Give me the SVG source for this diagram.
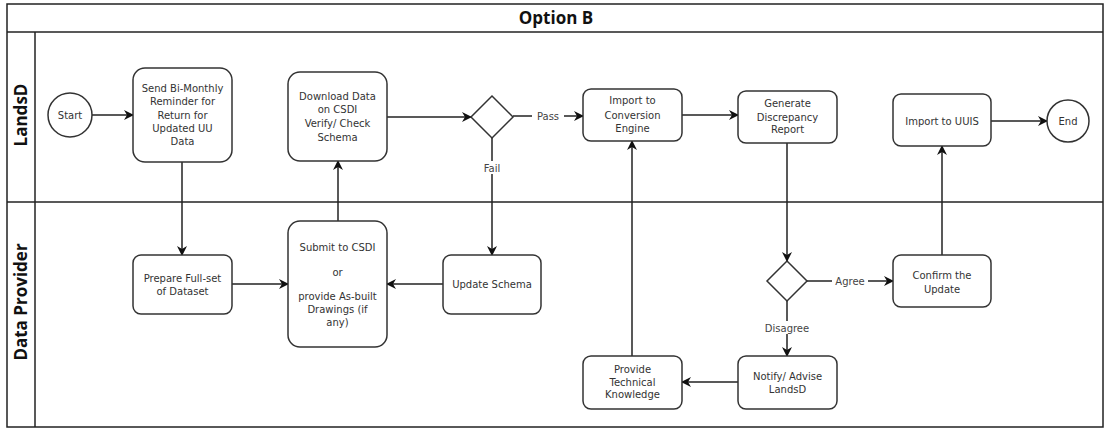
<svg xmlns="http://www.w3.org/2000/svg" width="1107" height="428" viewBox="0 0 1107 428">
<style>
.frame{fill:none;stroke:#222;stroke-width:1.5}
.box{fill:#fff;stroke:#333;stroke-width:1.5}
.t{font-family:"DejaVu Sans",Verdana,sans-serif;font-size:10px;fill:#333;text-anchor:middle}
.lbl{font-family:"DejaVu Sans",Verdana,sans-serif;font-size:10px;fill:#444;text-anchor:middle}
.lane{font-family:"Open Sans","DejaVu Sans",sans-serif;font-size:17px;font-weight:bold;fill:#111;text-anchor:middle}
.edge{fill:none;stroke:#222;stroke-width:1.5}
.bg{fill:#fff}
</style>
<defs>
<marker id="arr" viewBox="0 0 10 10" refX="9" refY="5" markerWidth="10" markerHeight="10" markerUnits="userSpaceOnUse" orient="auto">
<path d="M0,0 L10,5 L0,10 L3,5 z" fill="#111"/>
</marker>
</defs>
<rect width="1107" height="428" fill="#fff"/>
<g id="pool">
<rect class="frame" x="7" y="4" width="1096" height="423"/>
<line class="frame" x1="7" y1="32" x2="1103" y2="32"/>
<line class="frame" x1="35" y1="32" x2="35" y2="427"/>
<line class="frame" x1="7" y1="202" x2="1103" y2="202"/>
<text class="lane" x="556" y="24">Option B</text>
<text class="lane" transform="translate(27,115) rotate(-90)">LandsD</text>
<text class="lane" transform="translate(27,302) rotate(-90)">Data Provider</text>
</g>
<g id="connectors">
<line class="edge" x1="92" y1="115" x2="133" y2="115" marker-end="url(#arr)"/>
<line class="edge" x1="182" y1="162" x2="182" y2="255" marker-end="url(#arr)"/>
<line class="edge" x1="232" y1="284" x2="288" y2="284" marker-end="url(#arr)"/>
<line class="edge" x1="338" y1="221" x2="338" y2="161" marker-end="url(#arr)"/>
<line class="edge" x1="387" y1="117" x2="471" y2="117" marker-end="url(#arr)"/>
<line class="edge" x1="513" y1="116" x2="583" y2="116" marker-end="url(#arr)"/>
<line class="edge" x1="492" y1="138" x2="492" y2="255" marker-end="url(#arr)"/>
<line class="edge" x1="443" y1="284" x2="387" y2="284" marker-end="url(#arr)"/>
<line class="edge" x1="682" y1="115" x2="738" y2="115" marker-end="url(#arr)"/>
<line class="edge" x1="787" y1="143" x2="787" y2="261" marker-end="url(#arr)"/>
<line class="edge" x1="807" y1="281" x2="893" y2="281" marker-end="url(#arr)"/>
<line class="edge" x1="787" y1="301" x2="787" y2="356" marker-end="url(#arr)"/>
<line class="edge" x1="738" y1="382" x2="682" y2="382" marker-end="url(#arr)"/>
<line class="edge" x1="632" y1="356" x2="632" y2="141" marker-end="url(#arr)"/>
<line class="edge" x1="942" y1="255" x2="942" y2="146" marker-end="url(#arr)"/>
<line class="edge" x1="991" y1="121" x2="1047" y2="121" marker-end="url(#arr)"/>
<rect class="bg" x="532" y="109" width="32" height="13"/>
<text class="lbl" x="548" y="119.5">Pass</text>
<rect class="bg" x="481" y="161" width="22" height="13"/>
<text class="lbl" x="492" y="171.5">Fail</text>
<rect class="bg" x="832" y="274" width="36" height="13"/>
<text class="lbl" x="850" y="284.5">Agree</text>
<rect class="bg" x="762" y="321" width="50" height="13"/>
<text class="lbl" x="787" y="331.5">Disagree</text>
</g>
<g id="start">
<circle class="box" cx="70" cy="115" r="22"/>
<text class="t" x="70" y="118.5">Start</text>
</g>
<g id="send">
<rect class="box" x="133" y="68" width="99" height="94" rx="12"/>
<text class="t" x="182.5" y="91.8">Send Bi-Monthly</text>
<text class="t" x="182.5" y="104.8">Reminder for</text>
<text class="t" x="182.5" y="118.5">Return for</text>
<text class="t" x="182.5" y="131.8">Updated UU</text>
<text class="t" x="182.5" y="145.2">Data</text>
</g>
<g id="download">
<rect class="box" x="288" y="72" width="99" height="89" rx="12"/>
<text class="t" x="337.5" y="99.5">Download Data</text>
<text class="t" x="337.5" y="112.5">on CSDI</text>
<text class="t" x="337.5" y="126.5">Verify/ Check</text>
<text class="t" x="337.5" y="140.5">Schema</text>
</g>
<g id="decision1">
<polygon class="box" points="492,96 513,117 492,138 471,117"/>
</g>
<g id="importconv">
<rect class="box" x="583" y="89" width="99" height="52" rx="8"/>
<text class="t" x="632.5" y="103.5">Import to</text>
<text class="t" x="632.5" y="118.5">Conversion</text>
<text class="t" x="632.5" y="131.5">Engine</text>
</g>
<g id="generate">
<rect class="box" x="738" y="91" width="99" height="52" rx="8"/>
<text class="t" x="787.5" y="106.5">Generate</text>
<text class="t" x="787.5" y="120.5">Discrepancy</text>
<text class="t" x="787.5" y="132.5">Report</text>
</g>
<g id="importuuis">
<rect class="box" x="893" y="94" width="98" height="52" rx="8"/>
<text class="t" x="942" y="124.5">Import to UUIS</text>
</g>
<g id="end">
<circle class="box" cx="1068" cy="121" r="21"/>
<text class="t" x="1068" y="124.5">End</text>
</g>
<g id="prepare">
<rect class="box" x="133" y="255" width="99" height="59" rx="8"/>
<text class="t" x="182.5" y="281.5">Prepare Full-set</text>
<text class="t" x="182.5" y="294.5">of Dataset</text>
</g>
<g id="submit">
<rect class="box" x="288" y="221" width="99" height="126" rx="12"/>
<text class="t" x="337.5" y="250.5">Submit to CSDI</text>
<text class="t" x="337.5" y="275.5">or</text>
<text class="t" x="337.5" y="299.5">provide As-built</text>
<text class="t" x="337.5" y="312.5">Drawings (if</text>
<text class="t" x="337.5" y="325.5">any)</text>
</g>
<g id="updateschema">
<rect class="box" x="443" y="255" width="98" height="59" rx="8"/>
<text class="t" x="492" y="287.5">Update Schema</text>
</g>
<g id="provide">
<rect class="box" x="583" y="356" width="99" height="53" rx="8"/>
<text class="t" x="632.5" y="372.5">Provide</text>
<text class="t" x="632.5" y="385.5">Technical</text>
<text class="t" x="632.5" y="397.5">Knowledge</text>
</g>
<g id="notify">
<rect class="box" x="738" y="356" width="99" height="53" rx="8"/>
<text class="t" x="787.5" y="379.5">Notify/ Advise</text>
<text class="t" x="787.5" y="392.5">LandsD</text>
</g>
<g id="decision2">
<polygon class="box" points="787,261 807,281 787,301 767,281"/>
</g>
<g id="confirm">
<rect class="box" x="893" y="255" width="98" height="52" rx="8"/>
<text class="t" x="942" y="278.5">Confirm the</text>
<text class="t" x="942" y="292.5">Update</text>
</g>
</svg>
